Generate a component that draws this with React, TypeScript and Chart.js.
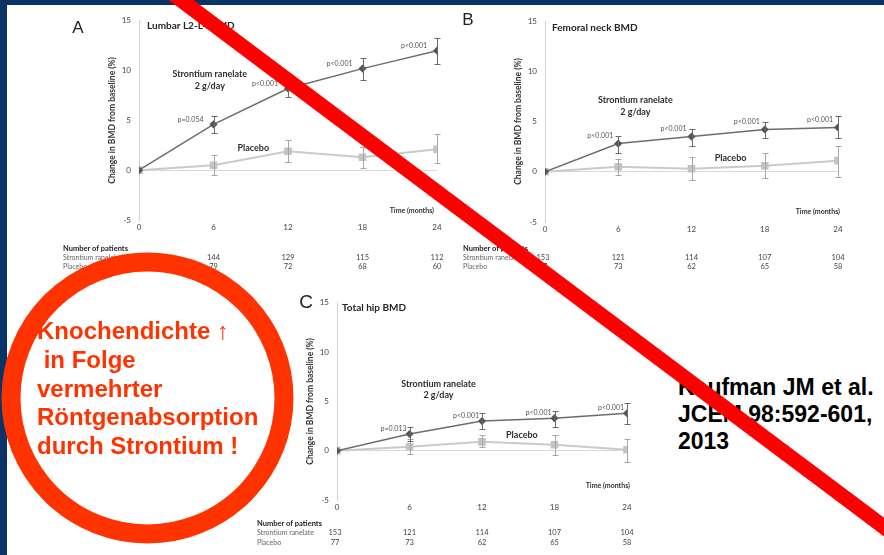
import React, { useEffect, useRef } from "react";
import { Chart, registerables } from "chart.js";
Chart.register(...registerables);

// ---------- shared axis data ----------
const months = [0, 6, 12, 18, 24];
const yTickValues = [-5, 0, 5, 10, 15];
const yAxisTitle = "Change in BMD from baseline (%)";
const xAxisTitle = "Time (months)";
const strontiumLabel = ["Strontium ranelate", "2 g/day"];
const placeboLabel = "Placebo";
const tableHeader = "Number of patients";
const tableRows = ["Strontium ranelate", "Placebo"];

// ---------- Panel A: Lumbar L2-L4 BMD ----------
const lumbarStrontium = [0, 4.6, 8.2, 10.2, 12.0];
const lumbarStrontiumLow = [0, 3.7, 7.3, 9.1, 10.7];
const lumbarStrontiumHigh = [0, 5.4, 9.2, 11.3, 13.3];
const lumbarPlacebo = [0, 0.5, 1.9, 1.3, 2.1];
const lumbarPlaceboLow = [0, -0.5, 0.8, 0.2, 0.7];
const lumbarPlaceboHigh = [0, 1.5, 3.0, 2.3, 3.6];
const lumbarP = ["", "p=0.054", "p<0.001", "p<0.001", "p<0.001"];
const lumbarNStrontium = [165, 144, 129, 115, 112];
const lumbarNPlacebo = [82, 79, 72, 68, 60];

// ---------- Panel B: Femoral neck BMD ----------
const femoralStrontium = [0, 2.8, 3.5, 4.2, 4.4];
const femoralStrontiumLow = [0, 1.9, 2.6, 3.4, 3.4];
const femoralStrontiumHigh = [0, 3.6, 4.3, 5.0, 5.5];
const femoralPlacebo = [0, 0.5, 0.3, 0.6, 1.1];
const femoralPlaceboLow = [0, -0.3, -0.8, -0.6, -0.5];
const femoralPlaceboHigh = [0, 1.3, 1.5, 1.9, 2.6];
const femoralP = ["", "p<0.001", "p<0.001", "p<0.001", "p<0.001"];
const femoralNStrontium = [153, 121, 114, 107, 104];
const femoralNPlacebo = [77, 73, 62, 65, 58];

// ---------- Panel C: Total hip BMD ----------
const hipStrontium = [0, 1.7, 3.0, 3.3, 3.8];
const hipStrontiumLow = [0, 1.0, 2.2, 2.4, 2.7];
const hipStrontiumHigh = [0, 2.4, 3.8, 4.0, 4.8];
const hipPlacebo = [0, 0.4, 0.9, 0.6, 0.1];
const hipPlaceboLow = [0, -0.3, 0.4, -0.4, -1.1];
const hipPlaceboHigh = [0, 1.2, 1.6, 1.6, 1.2];
const hipP = ["", "p=0.013", "p<0.001", "p<0.001", "p<0.001"];
const hipNStrontium = [153, 121, 114, 107, 104];
const hipNPlacebo = [77, 73, 62, 65, 58];

const circleLines = ["Knochendichte \u2191", " in Folge", "vermehrter", "R\u00f6ntgenabsorption", "durch Strontium !"];
const citationLines = ["Kaufman JM et al.", "JCEM 98:592-601,", "2013"];

type PanelCfg = {
  letter: string;
  title: string;
  s: number[]; sLow: number[]; sHigh: number[];
  p: number[]; pLow: number[]; pHigh: number[];
  pLabels: string[];
  nS: number[]; nP: number[];
  box: { x: number; y: number; w: number; h: number };
  area: { l: number; t: number; r: number; b: number };
  letterPos: { dx: number; dy: number; size: number };
  titleDx: number; titleDy: number;
  sLabelAt: { x: number; y1: number; y2: number };
  pLabelAt: { x: number; y: number };
  pDx: number; pDy: number;
  xTitleDx: number; xTitleDy: number;
  tableDx: number; tableRowsDy: number[];
};

const FONT = "Lato, 'Liberation Sans', sans-serif";

const panels: PanelCfg[] = [
  {
    letter: "A", title: "Lumbar L2-L4 BMD",
    s: lumbarStrontium, sLow: lumbarStrontiumLow, sHigh: lumbarStrontiumHigh,
    p: lumbarPlacebo, pLow: lumbarPlaceboLow, pHigh: lumbarPlaceboHigh,
    pLabels: lumbarP, nS: lumbarNStrontium, nP: lumbarNPlacebo,
    box: { x: 40, y: 8, w: 410, h: 272 },
    area: { l: 139, t: 20, r: 437, b: 220 },
    letterPos: { dx: -61, dy: 12, size: 17 },
    titleDx: 8, titleDy: 5,
    sLabelAt: { x: 5.7, y1: 9.6, y2: 8.4 },
    pLabelAt: { x: 9.2, y: 2.2 },
    pDx: -10, pDy: -5, xTitleDx: -3, xTitleDy: -9,
    tableDx: -76, tableRowsDy: [29, 38, 47],
  },
  {
    letter: "B", title: "Femoral neck BMD",
    s: femoralStrontium, sLow: femoralStrontiumLow, sHigh: femoralStrontiumHigh,
    p: femoralPlacebo, pLow: femoralPlaceboLow, pHigh: femoralPlaceboHigh,
    pLabels: femoralP, nS: femoralNStrontium, nP: femoralNPlacebo,
    box: { x: 450, y: 8, w: 434, h: 272 },
    area: { l: 545, t: 21, r: 838, b: 222 },
    letterPos: { dx: -77, dy: 4, size: 17 },
    titleDx: 7, titleDy: 7,
    sLabelAt: { x: 7.4, y1: 7.1, y2: 5.95 },
    pLabelAt: { x: 15.2, y: 1.4 },
    pDx: -5, pDy: -8, xTitleDx: 2, xTitleDy: -10,
    tableDx: -82, tableRowsDy: [27, 36, 45],
  },
  {
    letter: "C", title: "Total hip BMD",
    s: hipStrontium, sLow: hipStrontiumLow, sHigh: hipStrontiumHigh,
    p: hipPlacebo, pLow: hipPlaceboLow, pHigh: hipPlaceboHigh,
    pLabels: hipP, nS: hipNStrontium, nP: hipNPlacebo,
    box: { x: 240, y: 290, w: 420, h: 265 },
    area: { l: 337, t: 302, r: 627, b: 500 },
    letterPos: { dx: -31, dy: 5, size: 19 },
    titleDx: 5, titleDy: 5,
    sLabelAt: { x: 8.4, y1: 6.8, y2: 5.6 },
    pLabelAt: { x: 15.3, y: 1.55 },
    pDx: -3, pDy: -5, xTitleDx: 3, xTitleDy: -14,
    tableDx: -80, tableRowsDy: [24, 33, 43],
  },
];

function decorPlugin(cfg: PanelCfg) {
  return {
    id: "decor" + cfg.letter,
    afterDatasetsDraw(chart: any) {
      const ctx = chart.ctx;
      const xs = chart.scales.x, ys = chart.scales.y;
      const sets: [number[], number[], string][] = [
        [cfg.pLow, cfg.pHigh, "#a6a6a6"],
        [cfg.sLow, cfg.sHigh, "#6a6a6a"],
      ];
      ctx.save();
      ctx.lineWidth = 1;
      for (const [lo, hi, col] of sets) {
        ctx.strokeStyle = col;
        months.forEach((m, i) => {
          if (lo[i] === hi[i]) return;
          const x = Math.round(xs.getPixelForValue(m)) + 0.5;
          const y1 = Math.round(ys.getPixelForValue(lo[i])) + 0.5;
          const y2 = Math.round(ys.getPixelForValue(hi[i])) + 0.5;
          ctx.beginPath();
          ctx.moveTo(x, y1); ctx.lineTo(x, y2);
          ctx.moveTo(x - 3, y1); ctx.lineTo(x + 3, y1);
          ctx.moveTo(x - 3, y2); ctx.lineTo(x + 3, y2);
          ctx.stroke();
        });
      }
      ctx.restore();
    },
    afterDraw(chart: any) {
      const ctx = chart.ctx;
      const xs = chart.scales.x, ys = chart.scales.y;
      const ca = chart.chartArea;
      ctx.save();
      // panel letter
      ctx.fillStyle = "#222";
      ctx.textAlign = "center";
      ctx.textBaseline = "alphabetic";
      ctx.font = `${cfg.letterPos.size}px 'Liberation Sans', sans-serif`;
      ctx.fillText(cfg.letter, ca.left + cfg.letterPos.dx, ca.top + cfg.letterPos.dy);
      // title
      ctx.textAlign = "left";
      ctx.textBaseline = "middle";
      ctx.font = `bold 10px ${FONT}`;
      ctx.fillStyle = "#262626";
      ctx.fillText(cfg.title, ca.left + cfg.titleDx, ca.top + cfg.titleDy);
      // y axis title
      ctx.save();
      ctx.translate(ca.left - 27, (ca.top + ca.bottom) / 2);
      ctx.rotate(-Math.PI / 2);
      ctx.textAlign = "center";
      ctx.font = `bold 8.5px ${FONT}`;
      ctx.fillStyle = "#333";
      ctx.fillText(yAxisTitle, 0, 0);
      ctx.restore();
      // x axis title
      ctx.textAlign = "right";
      ctx.font = `bold 7px ${FONT}`;
      ctx.fillStyle = "#333";
      ctx.fillText(xAxisTitle, xs.getPixelForValue(24) + cfg.xTitleDx, ca.bottom + cfg.xTitleDy);
      // series labels
      ctx.textAlign = "center";
      ctx.font = `bold 9px ${FONT}`;
      ctx.fillStyle = "#2e2e2e";
      const sx = xs.getPixelForValue(cfg.sLabelAt.x);
      ctx.fillText(strontiumLabel[0], sx, ys.getPixelForValue(cfg.sLabelAt.y1));
      ctx.fillText(strontiumLabel[1], sx, ys.getPixelForValue(cfg.sLabelAt.y2));
      ctx.fillText(placeboLabel, xs.getPixelForValue(cfg.pLabelAt.x), ys.getPixelForValue(cfg.pLabelAt.y));
      // p labels
      ctx.textAlign = "right";
      ctx.font = `7px ${FONT}`;
      ctx.fillStyle = "#555";
      months.forEach((m, i) => {
        if (!cfg.pLabels[i]) return;
        ctx.fillText(cfg.pLabels[i], xs.getPixelForValue(m) + cfg.pDx, ys.getPixelForValue(cfg.s[i]) + cfg.pDy);
      });
      // number of patients table
      const tx = ca.left + cfg.tableDx;
      ctx.textAlign = "left";
      ctx.font = `bold 7.5px ${FONT}`;
      ctx.fillStyle = "#222";
      ctx.fillText(tableHeader, tx, ca.bottom + cfg.tableRowsDy[0]);
      ctx.font = `7px ${FONT}`;
      ctx.fillStyle = "#666";
      ctx.fillText(tableRows[0], tx, ca.bottom + cfg.tableRowsDy[1]);
      ctx.fillText(tableRows[1], tx, ca.bottom + cfg.tableRowsDy[2]);
      ctx.textAlign = "center";
      ctx.font = `7.5px ${FONT}`;
      ctx.fillStyle = "#444";
      months.forEach((m, i) => {
        const x = xs.getPixelForValue(m) - (i === 0 ? 2 : 0);
        ctx.fillText(String(cfg.nS[i]), x, ca.bottom + cfg.tableRowsDy[1]);
        ctx.fillText(String(cfg.nP[i]), x, ca.bottom + cfg.tableRowsDy[2]);
      });
      ctx.restore();
    },
  };
}

function Panel({ cfg }: { cfg: PanelCfg }) {
  const ref = useRef<HTMLCanvasElement>(null);
  useEffect(() => {
    const { box, area } = cfg;
    const xh = 20;
    const yw = area.l - box.x;
    const padding = {
      left: 0,
      top: area.t - box.y,
      right: box.x + box.w - area.r,
      bottom: box.y + box.h - area.b - xh,
    };
    const pts = (vals: number[]) => months.map((m, i) => ({ x: m, y: vals[i] }));
    const chart = new Chart(ref.current as HTMLCanvasElement, {
      type: "line",
      data: {
        datasets: [
          {
            label: "Strontium ranelate 2 g/day",
            data: pts(cfg.s),
            borderColor: "#6d6d6d",
            borderWidth: 1.5,
            pointStyle: "rectRot",
            pointRadius: 3,
            pointBackgroundColor: "#555",
            pointBorderColor: "#555",
            tension: 0,
          },
          {
            label: "Placebo",
            data: pts(cfg.p),
            borderColor: "#cacaca",
            borderWidth: 2,
            pointStyle: "rect",
            pointRadius: 4,
            pointBackgroundColor: "#c4c4c4",
            pointBorderColor: "#c4c4c4",
            tension: 0,
          },
        ],
      },
      options: {
        responsive: false,
        animation: false,
        events: [],
        layout: { padding },
        plugins: { legend: { display: false }, tooltip: { enabled: false }, title: { display: false } },
        scales: {
          x: {
            type: "linear",
            min: 0,
            max: 24,
            afterBuildTicks: (s: any) => { s.ticks = months.map((v) => ({ value: v })); },
            afterFit: (s: any) => { s.height = xh; },
            grid: { display: false, drawTicks: false },
            border: { display: false },
            ticks: { padding: 3, color: "#444", font: { family: FONT, size: 8 }, maxRotation: 0, autoSkip: false },
          },
          y: {
            type: "linear",
            min: -5,
            max: 15,
            afterBuildTicks: (s: any) => { s.ticks = yTickValues.map((v) => ({ value: v })); },
            afterFit: (s: any) => { s.width = yw; },
            grid: {
              drawTicks: false,
              lineWidth: 1,
              color: (c: any) => (c.tick && c.tick.value === 0 ? "#d9d9d9" : "rgba(0,0,0,0)"),
            },
            border: { display: true, color: "#d3d3d3", width: 1 },
            ticks: { padding: 8, color: "#444", font: { family: FONT, size: 8 } },
          },
        },
      } as any,
      plugins: [decorPlugin(cfg)],
    } as any);
    return () => chart.destroy();
  }, [cfg]);
  const { box } = cfg;
  return (
    <canvas
      ref={ref}
      width={box.w}
      height={box.h}
      style={{ position: "absolute", left: box.x, top: box.y, width: box.w, height: box.h }}
    />
  );
}

export default function App() {
  return (
    <div
      style={{
        position: "fixed", left: 0, top: 0, width: 884, height: 555,
        background: "#ffffff", overflow: "hidden",
      }}
    >
      <div style={{ position: "absolute", left: 0, top: 0, width: 884, height: 5, background: "#0a3466" }} />
      <div style={{ position: "absolute", left: 0, top: 0, width: 7, height: 555, background: "#0a3466" }} />
      {panels.map((p) => (
        <Panel key={p.letter} cfg={p} />
      ))}
      <div
        style={{
          position: "absolute", left: 678, top: 374, whiteSpace: "pre",
          fontFamily: "'Liberation Sans', Arial, sans-serif", fontWeight: "bold",
          fontSize: 23, lineHeight: "27px", color: "#000",
        }}
      >
        {citationLines.join("\n")}
      </div>
      <div
        style={{
          position: "absolute", left: 37, top: 317, whiteSpace: "pre",
          fontFamily: "'Liberation Sans', Arial, sans-serif", fontWeight: "bold",
          fontSize: 24, lineHeight: "28.75px", color: "#ff3300",
        }}
      >
        {circleLines.join("\n")}
      </div>
      <svg width={884} height={555} style={{ position: "absolute", left: 0, top: 0 }}>
        <ellipse cx={147.5} cy={398} rx={136.5} ry={136} fill="none" stroke="#ff3300" strokeWidth={19} />
        <line x1={150} y1={-23.2} x2={900} y2={539} stroke="#ff0000" strokeWidth={15} />
      </svg>
    </div>
  );
}
